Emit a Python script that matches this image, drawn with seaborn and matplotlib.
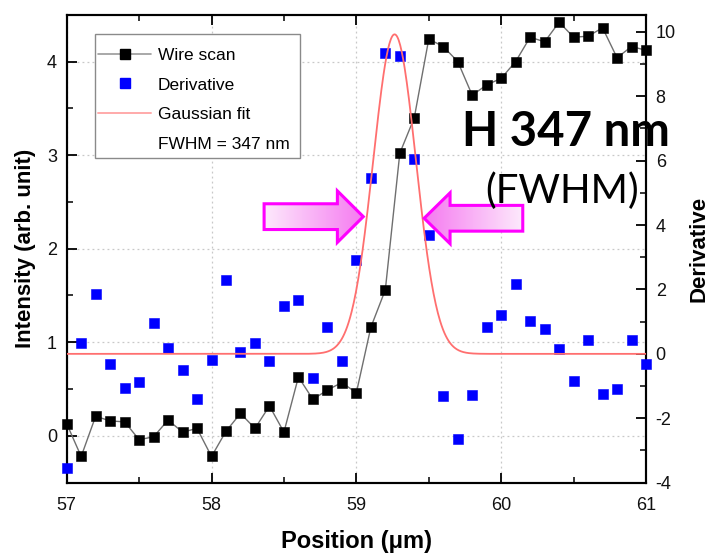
import numpy as np
import pandas as pd
import matplotlib
matplotlib.use("Agg")
import matplotlib.pyplot as plt
import seaborn as sns
from matplotlib.lines import Line2D
from matplotlib.patches import Polygon, Rectangle
from matplotlib.colors import LinearSegmentedColormap
from matplotlib.ticker import MultipleLocator

# Wire-scan positions (um)
position = [57.0, 57.1, 57.2, 57.3, 57.4, 57.5, 57.6, 57.7, 57.8, 57.9,
            58.0, 58.1, 58.2, 58.3, 58.4, 58.5, 58.6, 58.7, 58.8, 58.9,
            59.0, 59.1, 59.2, 59.3, 59.4, 59.5, 59.6, 59.7, 59.8, 59.9,
            60.0, 60.1, 60.2, 60.3, 60.4, 60.5, 60.6, 60.7, 60.8, 60.9,
            61.0]

# Measured intensity (arb. unit)
wire_scan = [0.13, -0.22, 0.21, 0.16, 0.15, -0.04, -0.01, 0.17, 0.04, 0.08,
             -0.22, 0.05, 0.24, 0.08, 0.32, 0.04, 0.63, 0.39, 0.49, 0.57,
             0.46, 1.16, 1.56, 3.02, 3.40, 4.24, 4.16, 4.00, 3.64, 3.75,
             3.82, 4.00, 4.26, 4.21, 4.42, 4.26, 4.27, 4.36, 4.04, 4.16,
             4.12]

# Derivative of the wire scan
derivative = [-3.54, 0.33, 1.85, -0.33, -1.06, -0.88, 0.97, 0.19, -0.51, -1.40,
              -0.20, 2.29, 0.06, 0.33, -0.23, 1.49, 1.66, -0.76, 0.83, -0.21,
              2.91, 5.46, 9.33, 9.24, 6.06, 3.70, -1.32, -2.64, -1.29, 0.83,
              1.20, 2.16, 1.02, 0.76, 0.16, -0.83, 0.42, -1.25, -1.09, 0.42,
              -0.33]

# Gaussian fit parameters
fit_center = 59.264
fit_amplitude = 9.92
fit_offset = 0.0
fwhm_nm = 347

legend_labels = ["Wire scan", "Derivative", "Gaussian fit", f"FWHM = {fwhm_nm} nm"]

sns.set_style("ticks")
plt.rcParams["font.family"] = ["Liberation Sans", "DejaVu Sans"]
plt.rcParams["axes.unicode_minus"] = False
for key in ("text.color", "axes.labelcolor", "xtick.color", "ytick.color"):
    plt.rcParams[key] = "black"

df = pd.DataFrame({"position": position, "wire": wire_scan, "deriv": derivative})

sigma = fwhm_nm / 1000.0 / (2.0 * np.sqrt(2.0 * np.log(2.0)))
x_fit = np.linspace(57.0, 61.0, 800)
fit_df = pd.DataFrame({
    "position": x_fit,
    "fit": fit_offset + fit_amplitude * np.exp(-(x_fit - fit_center) ** 2 / (2 * sigma ** 2)),
})

W, H = 711, 557
fig = plt.figure(figsize=(W / 100, H / 100), dpi=100)
ax = fig.add_axes([0.0938, 0.1334, 0.8148, 0.8402])
ax2 = ax.twinx()

# Intensity trace on the left axis
sns.lineplot(data=df, x="position", y="wire", ax=ax, color="#6f6f6f",
             linewidth=1.0, zorder=2, legend=False)
sns.scatterplot(data=df, x="position", y="wire", ax=ax, marker="s", s=48,
                color="black", edgecolor="black", linewidth=0.4, zorder=3,
                clip_on=False, legend=False)

# Derivative and its Gaussian fit on the right axis
sns.scatterplot(data=df, x="position", y="deriv", ax=ax2, marker="s", s=42,
                color="#0000ff", edgecolor="#0000ff", linewidth=0.4, zorder=3,
                clip_on=False, legend=False)
sns.lineplot(data=fit_df, x="position", y="fit", ax=ax2, color="#ff6f6f",
             linewidth=1.3, zorder=4, legend=False)

ax.set_xlim(57, 61)
ax.set_ylim(-0.5, 4.5)

ax.xaxis.set_major_locator(MultipleLocator(1))
ax.xaxis.set_minor_locator(MultipleLocator(0.5))
ax.yaxis.set_major_locator(MultipleLocator(1))
ax.yaxis.set_minor_locator(MultipleLocator(0.5))
ax2.yaxis.set_major_locator(MultipleLocator(2))
ax2.yaxis.set_minor_locator(MultipleLocator(1))

ax.grid(True, which="major", linestyle=(0, (1.5, 2.5)), color="#c8c8c8", linewidth=0.9)

ax.tick_params(axis="x", which="both", direction="in", top=True, bottom=True,
               labelsize=13, pad=10, labelcolor="#111111")
ax.tick_params(axis="y", which="both", direction="in", left=True, right=False,
               labelsize=13, pad=7, labelcolor="#111111")
ax2.tick_params(axis="y", which="both", direction="in", right=True,
                labelsize=13, pad=7, labelcolor="#111111")
for a in (ax, ax2):
    a.tick_params(which="major", length=7, width=1.3, color="black")
    a.tick_params(which="minor", length=4, width=1.1, color="black")
    for sp in a.spines.values():
        sp.set_visible(True)
        sp.set_linewidth(1.5)
        sp.set_color("black")

ax.set_xlabel("Position (μm)", fontsize=17, fontweight="bold", labelpad=12)
ax.set_ylabel("Intensity (arb. unit)", fontsize=16, fontweight="bold", labelpad=8)
ax2.set_ylabel("Derivative", fontsize=16, fontweight="bold", labelpad=9)


def block_arrow(axis, tail_x, base_x, tip_x, y, body_h, head_h, light, dark):
    verts = [(tail_x, y - body_h), (base_x, y - body_h), (base_x, y - head_h),
             (tip_x, y), (base_x, y + head_h), (base_x, y + body_h),
             (tail_x, y + body_h)]
    poly = Polygon(verts, closed=True, facecolor="none", edgecolor="#ff00ff",
                   linewidth=2.2, joinstyle="miter", zorder=6)
    axis.add_patch(poly)
    cmap = LinearSegmentedColormap.from_list("pinkfade", [light, dark])
    grad = np.linspace(0, 1, 256).reshape(1, -1)
    x0, x1 = min(tail_x, tip_x), max(tail_x, tip_x)
    if tip_x < tail_x:
        grad = grad[:, ::-1]
    img = axis.imshow(grad, cmap=cmap, extent=[x0, x1, y - head_h, y + head_h],
                      aspect="auto", origin="lower", zorder=5, interpolation="bilinear")
    img.set_clip_path(poly)


block_arrow(ax2, 58.363, 58.869, 59.048, 4.26, 0.40, 0.80, "#fdeafc", "#f57af0")
block_arrow(ax2, 60.149, 59.647, 59.468, 4.21, 0.40, 0.79, "#fdeafc", "#f57af0")
ax2.set_xlim(57, 61)
ax2.set_ylim(-4, 10.53)

fig.text(461.7 / W, 1 - 146 / H, "H 347 nm", fontsize=34, fontweight="bold",
         family=["Lato", "DejaVu Sans"], color="black", ha="left", va="baseline", zorder=10)
fig.text(485 / W, 1 - 203.3 / H, "(FWHM)", fontsize=29,
         family=["Lato", "DejaVu Sans"], color="black", ha="left", va="baseline", zorder=10)

# Legend box, then the entries drawn inside it
frame = Rectangle((95 / W, 1 - 158.3 / H), (300 - 95) / W, (158.3 - 34.3) / H,
                  transform=fig.transFigure, facecolor="white", edgecolor="#8a8a8a",
                  linewidth=1.0, zorder=7)
ax2.add_artist(frame)
frame.set_clip_on(False)

handles = [
    Line2D([], [], color="#9a9a9a", linewidth=1.2, marker="s", markersize=7,
           markerfacecolor="black", markeredgecolor="black"),
    Line2D([], [], linestyle="none", marker="s", markersize=7,
           markerfacecolor="#0000ff", markeredgecolor="#0000ff"),
    Line2D([], [], color="#ffaaaa", linewidth=1.4),
    Line2D([], [], linestyle="none"),
]
leg = ax2.legend(handles, legend_labels, loc="upper left",
                 bbox_to_anchor=(98.3 / W, 1 - 47.5 / H), bbox_transform=fig.transFigure,
                 borderaxespad=0, borderpad=0, fontsize=12.5, handlelength=3.05,
                 handletextpad=0.36, labelspacing=0.85, frameon=False)
leg.set_zorder(8)

fig.savefig("out.png", dpi=100)
